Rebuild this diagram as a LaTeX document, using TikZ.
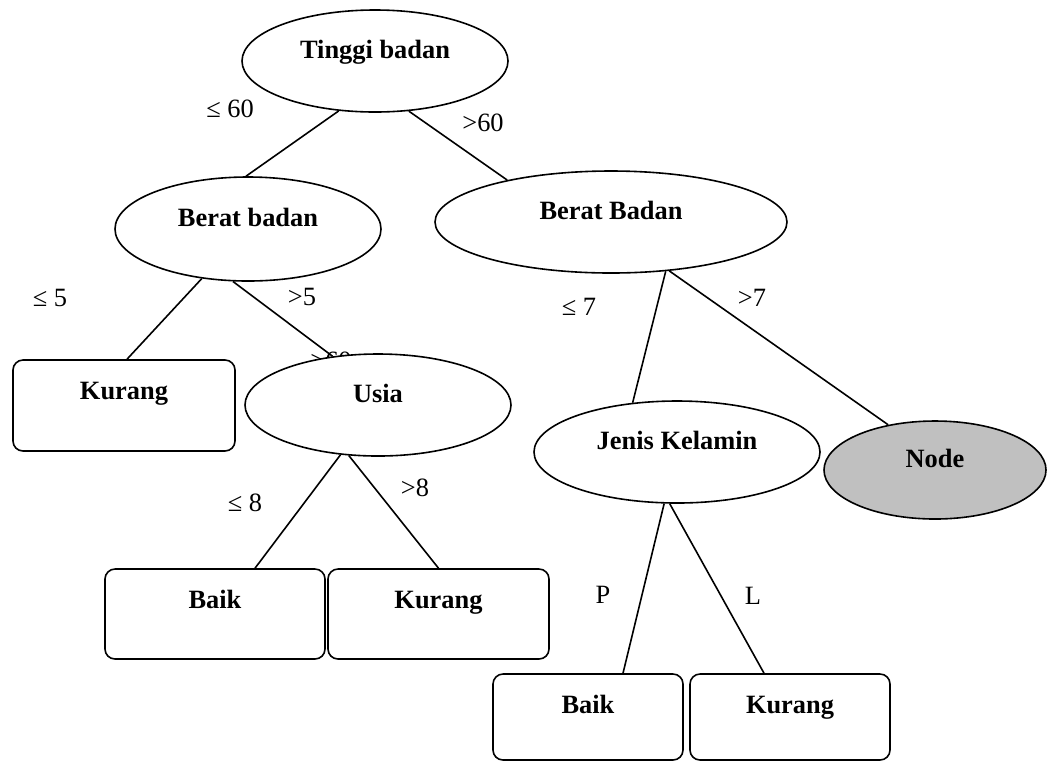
\documentclass[tikz,border=0pt]{standalone}
\usepackage{fontspec}
\setmainfont{Liberation Serif}
\usetikzlibrary{shapes.geometric,calc}
\definecolor{nodegray}{RGB}{192,192,192}
\newcommand{\treefont}{\fontsize{13.2}{15}\selectfont}
\tikzset{
  split/.style={ellipse, draw, fill=white, inner sep=0pt, text height=9pt, text depth=12pt, font=\treefont\bfseries},
  leaf/.style={rectangle, draw, rounded corners=5pt, fill=white, inner sep=0pt, text height=19.5pt, text depth=25.5pt, font=\treefont\bfseries},
  lowleaf/.style={leaf, text depth=23.5pt},
  branch/.style={font=\treefont, inner sep=1pt}
}

\begin{document}
\begin{tikzpicture}[x=0.5pt, y=-0.5pt, line width=0.8pt]
	\useasboundingbox (0,0) rectangle (1047,762);
	
	\node[branch] (hidden) at (331,361) {>60};
	
	\node[split, minimum width=133pt, minimum height=51pt] (tinggi) at (375,61) {Tinggi badan};
	\node[split, minimum width=133pt, minimum height=52pt] (beratA) at (248,229) {Berat badan};
	\node[split, minimum width=176pt, minimum height=51pt] (beratB) at (611,222) {Berat Badan};
	\node[split, minimum width=133pt, minimum height=51pt] (usia) at (378,405) {Usia};
	\node[split, minimum width=143pt, minimum height=51pt] (jenis) at (677,452) {Jenis Kelamin};
	\node[split, fill=nodegray, minimum width=111pt, minimum height=49pt] (nd) at (935,470) {Node};
	
	\node[leaf, minimum width=111pt, minimum height=45.5pt] (kurangA) at (124,405.5) {Kurang};
	\node[leaf, minimum width=110pt, minimum height=45pt] (baikA) at (215,614) {Baik};
	\node[leaf, minimum width=110.5pt, minimum height=45pt] (kurangB) at (438.5,614) {Kurang};
	\node[lowleaf, minimum width=95pt, minimum height=43pt] (baikB) at (588,717) {Baik};
	\node[lowleaf, minimum width=100pt, minimum height=43pt] (kurangC) at (790,717) {Kurang};
	
	\draw (tinggi.234.6) -- ($(beratA.north)+(-2,0)$);
	\draw (tinggi.304.5) -- (beratB.158.5);
	\draw (beratA.227.2) -- ($(kurangA.north)+(3,0)$);
	\draw (beratA.254.2) -- (usia.133.2);
	\draw (beratB.318.7) -- (jenis.132);
	\draw (beratB.320.6) -- (nd.136.8);
	\draw (usia.233.8) -- ($(baikA.north)+(40,0)$);
	\draw (usia.240) -- (kurangB.north);
	\draw (jenis.256.8) -- ($(baikB.north)+(35,0)$);
	\draw (jenis.262.2) -- ($(kurangC.north)+(-26,0)$);
	
	\node[branch] (lt60) at (230,109) {≤ 60};
	\node[branch] (gt60) at (483,123) {>60};
	\node[branch] (lt5) at (50,298) {≤ 5};
	\node[branch] (gt5) at (302,297) {>5};
	\node[branch] (lt7) at (579,307) {≤ 7};
	\node[branch] (gt7) at (752,298) {>7};
	\node[branch] (lt8) at (245,503) {≤ 8};
	\node[branch] (gt8) at (415,488) {>8};
	\node[branch] (p) at (603,595) {P};
	\node[branch] (l) at (753,596) {L};
\end{tikzpicture}
\end{document}
